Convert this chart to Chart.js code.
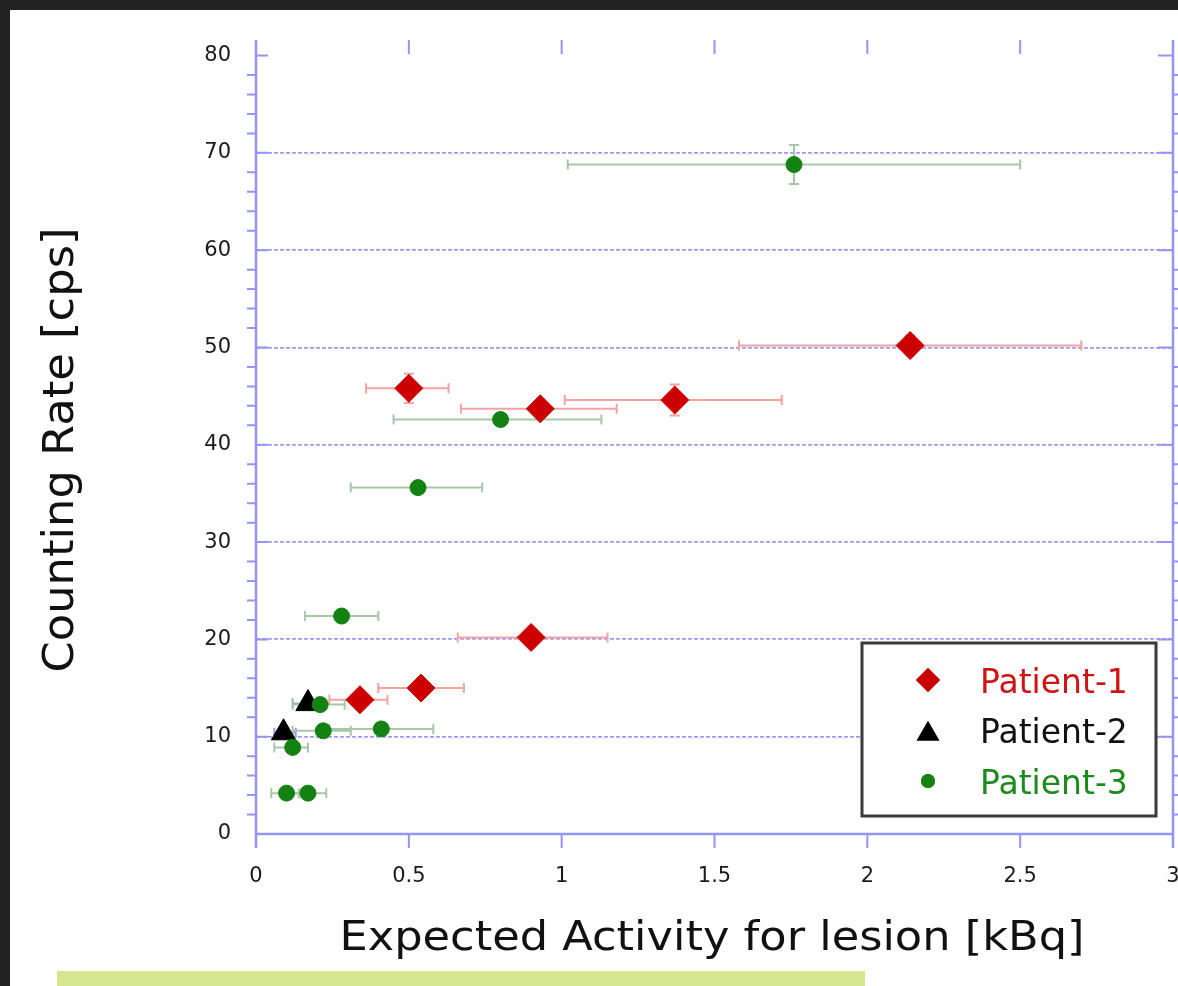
<!DOCTYPE html>
<html>
<head>
<meta charset="utf-8">
<script src="https://cdn.jsdelivr.net/npm/chart.js@4/dist/chart.umd.min.js"></script>
<style>
  html, body { margin: 0; padding: 0; background: #222222; }
  body { width: 1178px; height: 986px; position: relative; overflow: hidden; }
  #sheet { position: absolute; left: 10px; top: 10px; width: 1168px; height: 976px; background: #ffffff; overflow: hidden; }
  #band { position: absolute; left: 57px; top: 971px; width: 808px; height: 15px; background: #d6e68f; }
</style>
</head>
<body>
<div id="sheet"><canvas id="chart" width="1178" height="976"></canvas></div>
<div id="band"></div>
<script>
// Patient-1 (red diamonds)
const p1X     = [0.50, 0.93, 1.37, 2.14, 0.90, 0.54, 0.34];
const p1Y     = [45.8, 43.7, 44.6, 50.2, 20.2, 15.0, 13.8];
const p1XLow  = [0.36, 0.67, 1.01, 1.58, 0.66, 0.40, 0.24];
const p1XHigh = [0.63, 1.18, 1.72, 2.70, 1.15, 0.68, 0.43];
const p1YErr  = [1.5, 0.8, 1.6, 1.0, 0.8, 0.8, 0.6];

// Patient-2 (black triangles)
const p2X     = [0.17, 0.09];
const p2Y     = [13.4, 10.4];
const p2XLow  = [0.12, 0.06];
const p2XHigh = [0.22, 0.13];
const p2YErr  = [0.5, 0.5];

// Patient-3 (green dots)
const p3X     = [1.76, 0.80, 0.53, 0.28, 0.21, 0.22, 0.41, 0.12, 0.10, 0.17];
const p3Y     = [68.8, 42.6, 35.6, 22.4, 13.3, 10.6, 10.8, 8.9, 4.2, 4.2];
const p3XLow  = [1.02, 0.45, 0.31, 0.16, 0.12, 0.12, 0.24, 0.06, 0.05, 0.10];
const p3XHigh = [2.50, 1.13, 0.74, 0.40, 0.29, 0.31, 0.58, 0.17, 0.14, 0.23];
const p3YErr  = [2.0, 0.5, 0.5, 0.5, 0.5, 0.5, 0.5, 0.5, 0.5, 0.5];

const seriesNames = ['Patient-1', 'Patient-2', 'Patient-3'];
const yTicks = [0, 10, 20, 30, 40, 50, 60, 70, 80];
const xTickLabels = ['0', '0.5', '1', '1.5', '2', '2.5', '3'];
const xTitle = 'Expected Activity for lesion [kBq]';
const yTitle = 'Counting Rate [cps]';

const axisColor = '#9494f4';
const gridColor = '#9c9cf4';

function pts(xs, ys) {
  return xs.map((v, i) => ({ x: v, y: ys[i] }));
}

// error bars, drawn under the markers
const errorBars = {
  id: 'errorBars',
  beforeDatasetsDraw(chart) {
    const { ctx, scales: { x, y } } = chart;
    ctx.save();
    ctx.lineWidth = 2;
    chart.data.datasets.forEach(ds => {
      ctx.strokeStyle = ds.errColor;
      ds.data.forEach((p, i) => {
        const px = x.getPixelForValue(p.x), py = y.getPixelForValue(p.y);
        const xl = x.getPixelForValue(ds.errXLow[i]);
        const xh = x.getPixelForValue(ds.errXHigh[i]);
        const yt = y.getPixelForValue(p.y + ds.errY[i]);
        const yb = y.getPixelForValue(p.y - ds.errY[i]);
        ctx.beginPath();
        ctx.moveTo(xl, py); ctx.lineTo(xh, py);
        ctx.moveTo(xl, py - 5); ctx.lineTo(xl, py + 5);
        ctx.moveTo(xh, py - 5); ctx.lineTo(xh, py + 5);
        ctx.moveTo(px, yt); ctx.lineTo(px, yb);
        ctx.moveTo(px - 5, yt); ctx.lineTo(px + 5, yt);
        ctx.moveTo(px - 5, yb); ctx.lineTo(px + 5, yb);
        ctx.stroke();
      });
    });
    ctx.restore();
  }
};

// axis lines and tick marks in the old plotting style
const frame = {
  id: 'frame',
  beforeDatasetsDraw(chart) {
    const { ctx, chartArea: a, scales: { x, y } } = chart;
    ctx.save();
    ctx.strokeStyle = axisColor;
    ctx.lineWidth = 2.5;
    ctx.beginPath();
    ctx.moveTo(a.left, a.top); ctx.lineTo(a.left, a.bottom + 14);
    ctx.moveTo(a.right, a.top); ctx.lineTo(a.right, a.bottom + 14);
    ctx.moveTo(a.left, a.bottom); ctx.lineTo(a.right, a.bottom);
    ctx.stroke();

    ctx.lineWidth = 2;
    ctx.beginPath();
    for (let v = 0; v <= 80; v += 2) {
      const py = y.getPixelForValue(v);
      if (v % 10 === 0) {
        ctx.moveTo(a.left, py); ctx.lineTo(a.left + 12, py);
        ctx.moveTo(a.right, py); ctx.lineTo(a.right - 15, py);
      } else {
        ctx.moveTo(a.left - 9, py); ctx.lineTo(a.left, py);
        ctx.moveTo(a.right, py); ctx.lineTo(a.right + 7, py);
      }
    }
    x.ticks.forEach(t => {
      const px = x.getPixelForValue(t.value);
      ctx.moveTo(px, a.bottom); ctx.lineTo(px, a.bottom + 14);
      if (t.value > 0 && t.value < 3) {
        ctx.moveTo(px, a.top); ctx.lineTo(px, a.top + 14);
      }
    });
    ctx.stroke();
    ctx.restore();
  }
};

function fitText(ctx, text, cx, cy, width, font, rotate) {
  ctx.save();
  ctx.font = font;
  const w = ctx.measureText(text).width;
  ctx.translate(cx, cy);
  if (rotate) ctx.rotate(-Math.PI / 2);
  ctx.scale(width / w, 1);
  ctx.textAlign = 'center';
  ctx.textBaseline = 'alphabetic';
  ctx.fillStyle = '#111111';
  ctx.fillText(text, 0, 0);
  ctx.restore();
}

function marker(ctx, style, r, cx, cy) {
  if (Chart.helpers && Chart.helpers.drawPoint) {
    Chart.helpers.drawPoint(ctx, { pointStyle: style, radius: r, rotation: 0, borderWidth: 0 }, cx, cy);
    ctx.fill();
  }
}

const titlesAndLegend = {
  id: 'titlesAndLegend',
  afterDraw(chart) {
    const { ctx } = chart;
    fitText(ctx, xTitle, 702, 940, 745, '40px "DejaVu Sans"', false);
    fitText(ctx, yTitle, 63, 440, 445, '43px "DejaVu Sans"', true);

    // legend box
    ctx.save();
    ctx.fillStyle = '#ffffff';
    ctx.fillRect(852, 633, 294, 173);
    ctx.strokeStyle = '#3a3a3a';
    ctx.lineWidth = 3;
    ctx.strokeRect(852, 633, 294, 173);
    const rows = [683, 733, 784];
    const marks = [['rectRot', 12, 670], ['triangle', 13, 724], ['circle', 7, 771]];
    const textColors = ['#d01414', '#111111', '#1c8a1c'];
    chart.data.datasets.forEach((ds, i) => {
      ctx.fillStyle = ds.backgroundColor;
      ctx.strokeStyle = ds.backgroundColor;
      marker(ctx, marks[i][0], marks[i][1], 918, marks[i][2]);
      ctx.fillStyle = textColors[i];
      ctx.font = '33px "DejaVu Sans"';
      ctx.textAlign = 'left';
      ctx.textBaseline = 'alphabetic';
      ctx.fillText(ds.label, 970, rows[i]);
    });
    ctx.restore();
  }
};

new Chart(document.getElementById('chart'), {
  type: 'scatter',
  data: {
    datasets: [
      {
        label: seriesNames[0], data: pts(p1X, p1Y), order: 3,
        pointStyle: 'rectRot', pointRadius: 14, pointHoverRadius: 14,
        backgroundColor: '#cc0000', borderColor: '#cc0000', borderWidth: 1,
        errXLow: p1XLow, errXHigh: p1XHigh, errY: p1YErr, errColor: '#f4a2a2'
      },
      {
        label: seriesNames[1], data: pts(p2X, p2Y), order: 2,
        pointStyle: 'triangle', pointRadius: 14, pointHoverRadius: 14,
        backgroundColor: '#000000', borderColor: '#000000', borderWidth: 1,
        errXLow: p2XLow, errXHigh: p2XHigh, errY: p2YErr, errColor: '#9c9ce0'
      },
      {
        label: seriesNames[2], data: pts(p3X, p3Y), order: 1,
        pointStyle: 'circle', pointRadius: 8, pointHoverRadius: 8,
        backgroundColor: '#138213', borderColor: '#138213', borderWidth: 1,
        errXLow: p3XLow, errXHigh: p3XHigh, errY: p3YErr, errColor: '#a8c6a8'
      }
    ]
  },
  options: {
    responsive: false,
    animation: false,
    events: [],
    layout: { padding: { left: 0, top: 30, right: 0, bottom: 0 } },
    plugins: {
      legend: { display: false },
      tooltip: { enabled: false }
    },
    scales: {
      x: {
        type: 'linear', min: 0, max: 3,
        afterFit(s) { s.height = 152; s.paddingLeft = 0; s.paddingRight = 0; },
        grid: { display: false, drawTicks: false },
        border: { display: false },
        ticks: {
          stepSize: 0.5, padding: 30, color: '#1a1a1a',
          font: { family: 'DejaVu Sans', size: 21 },
          callback: (v, i) => xTickLabels[i]
        }
      },
      y: {
        type: 'linear', min: 0, max: 81.6,
        afterFit(s) { s.width = 246; s.paddingTop = 0; s.paddingBottom = 0; },
        afterBuildTicks(s) { s.ticks = yTicks.map(v => ({ value: v })); },
        grid: {
          drawTicks: false, lineWidth: 1.8,
          color: c => (c.tick && c.tick.value > 0 && c.tick.value < 80) ? gridColor : 'rgba(0,0,0,0)'
        },
        border: { display: false, dash: [4, 2] },
        ticks: {
          padding: 25, color: '#1a1a1a',
          font: { family: 'DejaVu Sans', size: 21 }
        }
      }
    }
  },
  plugins: [frame, errorBars, titlesAndLegend]
});
</script>
</body>
</html>
